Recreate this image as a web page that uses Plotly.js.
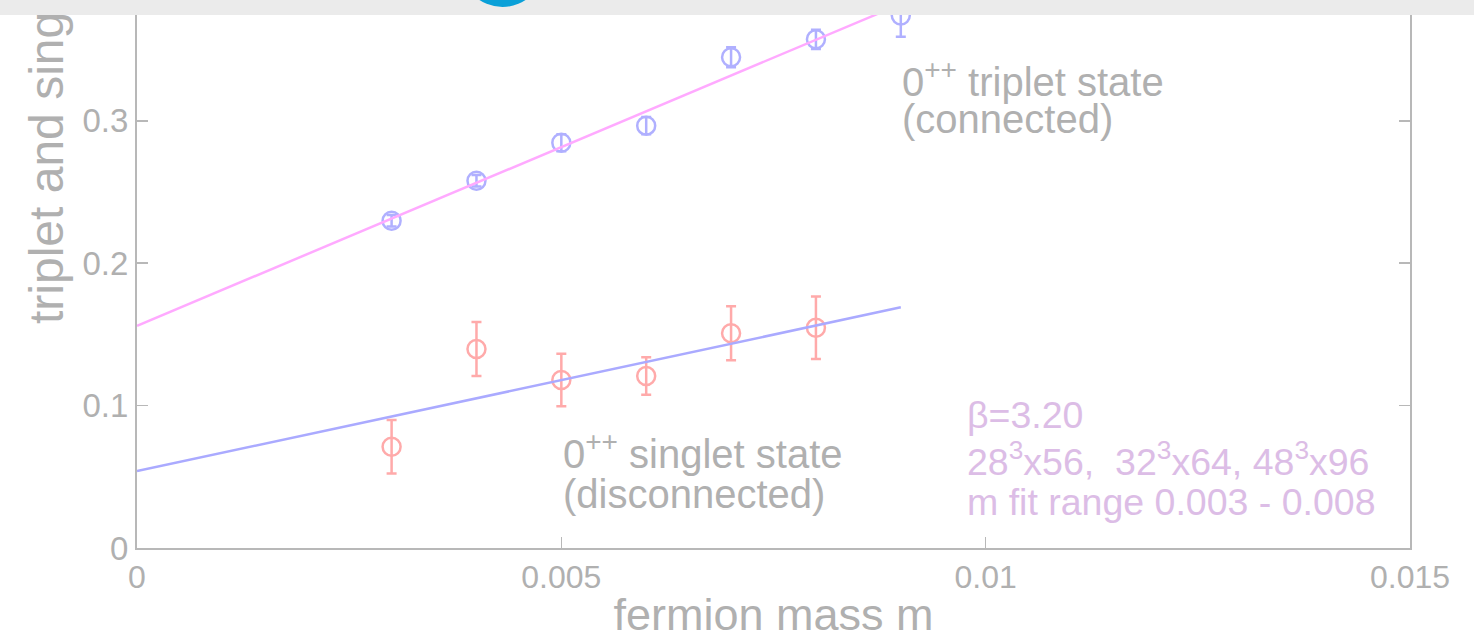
<!DOCTYPE html>
<html>
<head>
<meta charset="utf-8">
<script src="https://cdn.plot.ly/plotly-3.0.1.min.js"></script>
<style>
  html, body { margin: 0; padding: 0; background: #ffffff; overflow: hidden; }
  #wrap { position: relative; width: 1474px; height: 640px; }
  #chart { position: absolute; left: 0; top: 0; width: 1474px; height: 640px; }
  #band { position: absolute; left: 0; top: 0; width: 1474px; height: 15px; background: #ebebeb; z-index: 5; overflow: hidden; }
  #dot { position: absolute; left: 461px; top: -76px; width: 83px; height: 83px; border-radius: 50%; background: #0aa0d8; }
</style>
</head>
<body>
<div id="wrap">
  <div id="chart"></div>
  <div id="band"><div id="dot"></div></div>
</div>
<script>
// ---- data ----
const tripletM     = [0.003, 0.004, 0.005, 0.006, 0.007, 0.008, 0.009];
const tripletMass  = [0.2298, 0.2579, 0.2846, 0.2966, 0.3446, 0.3572, 0.374];
const tripletErr   = [0.004, 0.004, 0.006, 0.006, 0.007, 0.0068, 0.015];

const singletM     = [0.003, 0.004, 0.005, 0.006, 0.007, 0.008];
const singletMass  = [0.0711, 0.1397, 0.118, 0.1208, 0.1508, 0.1547];
const singletErr   = [0.0187, 0.019, 0.0184, 0.0132, 0.019, 0.022];

const fitM         = [0, 0.009];
const tripletFit   = [0.156, 0.382];
const singletFit   = [0.054, 0.169];

const xTickVals = [0, 0.005, 0.01, 0.015];
const xTickText = ["0", "0.005", "0.01", "0.015"];
const yTickVals = [0, 0.1, 0.2, 0.3];
const yTickText = ["0", "0.1", "0.2", "0.3"];

// ---- styling ----
const gray = "#b0b0b0";
const axisGray = "#b8b8b8";
const purple = "#dcbde6";
const font = "Liberation Sans, Arial, Helvetica, sans-serif";

const traces = [
  {
    x: tripletM, y: tripletMass, type: "scatter", mode: "markers",
    marker: { symbol: "circle-open", size: 18, color: "#b0b0ff", line: { width: 2.5, color: "#b0b0ff" } },
    error_y: { type: "data", array: tripletErr, visible: true, color: "#b0b0ff", thickness: 2.5, width: 5 },
    showlegend: false, cliponaxis: false
  },
  {
    x: singletM, y: singletMass, type: "scatter", mode: "markers",
    marker: { symbol: "circle-open", size: 18, color: "#ffaaaa", line: { width: 2.5, color: "#ffaaaa" } },
    error_y: { type: "data", array: singletErr, visible: true, color: "#ffaaaa", thickness: 2.5, width: 5 },
    showlegend: false
  },
  {
    x: fitM, y: tripletFit, type: "scatter", mode: "lines",
    line: { color: "#ffaaff", width: 2.5 }, showlegend: false
  },
  {
    x: fitM, y: singletFit, type: "scatter", mode: "lines",
    line: { color: "#aaaaff", width: 2.5 }, showlegend: false
  }
];

// pixel helpers for placing text (plot area: x 137..1410, y 0..548)
const Y0 = 548, PXPER = 1424; // pixels per unit in y
function yv(px) { return (Y0 - px) / PXPER; }
function xv(px) { return (px - 137) / 1273 * 0.015; }

function ann(text, xpx, ypx, color, size) {
  return {
    text: text, xref: "x", yref: "y", x: xv(xpx), y: yv(ypx),
    xanchor: "left", yanchor: "middle", showarrow: false,
    font: { family: font, size: size, color: color }
  };
}

const layout = {
  width: 1474, height: 640,
  margin: { l: 137, r: 64, t: 0, b: 92 },
  paper_bgcolor: "#ffffff", plot_bgcolor: "#ffffff",
  font: { family: font, color: gray },
  xaxis: {
    range: [0, 0.015], tickvals: xTickVals, ticktext: xTickText,
    ticks: "inside", ticklen: 11, tickwidth: 1.5, tickcolor: axisGray,
    showline: true, linecolor: axisGray, linewidth: 2, mirror: "ticks",
    showgrid: false, zeroline: false,
    tickfont: { family: font, size: 32, color: gray },
    title: { text: "fermion mass m", font: { family: font, size: 45, color: gray }, standoff: 8 }
  },
  yaxis: {
    range: [0, 548 / 1424], tickvals: yTickVals, ticktext: yTickText,
    ticks: "inside", ticklen: 11, tickwidth: 1.5, tickcolor: axisGray,
    showline: true, linecolor: axisGray, linewidth: 2, mirror: "ticks",
    showgrid: false, zeroline: false,
    tickfont: { family: font, size: 33, color: gray }
  },
  annotations: [
    {
      text: "triplet and singlet masses", xref: "paper", yref: "paper",
      x: (46 - 137) / 1273, y: (548 - 326) / 548, xanchor: "center", yanchor: "bottom",
      textangle: -90, showarrow: false,
      font: { family: font, size: 48, color: gray }
    },
    ann("0<sup>++</sup> triplet state", 900, 79, gray, 40),
    ann("(connected)", 900, 119, gray, 40),
    ann("0<sup>++</sup> singlet state", 561, 451, gray, 40),
    ann("(disconnected)", 561, 494, gray, 40),
    ann("β=3.20", 965, 415, purple, 37.5),
    ann("28<sup>3</sup>x56,  32<sup>3</sup>x64, 48<sup>3</sup>x96", 965, 459, purple, 37.5),
    ann("m fit range 0.003 - 0.008", 965, 502, purple, 37.5)
  ]
};

Plotly.newPlot("chart", traces, layout, { displayModeBar: false, staticPlot: true });
</script>
</body>
</html>
